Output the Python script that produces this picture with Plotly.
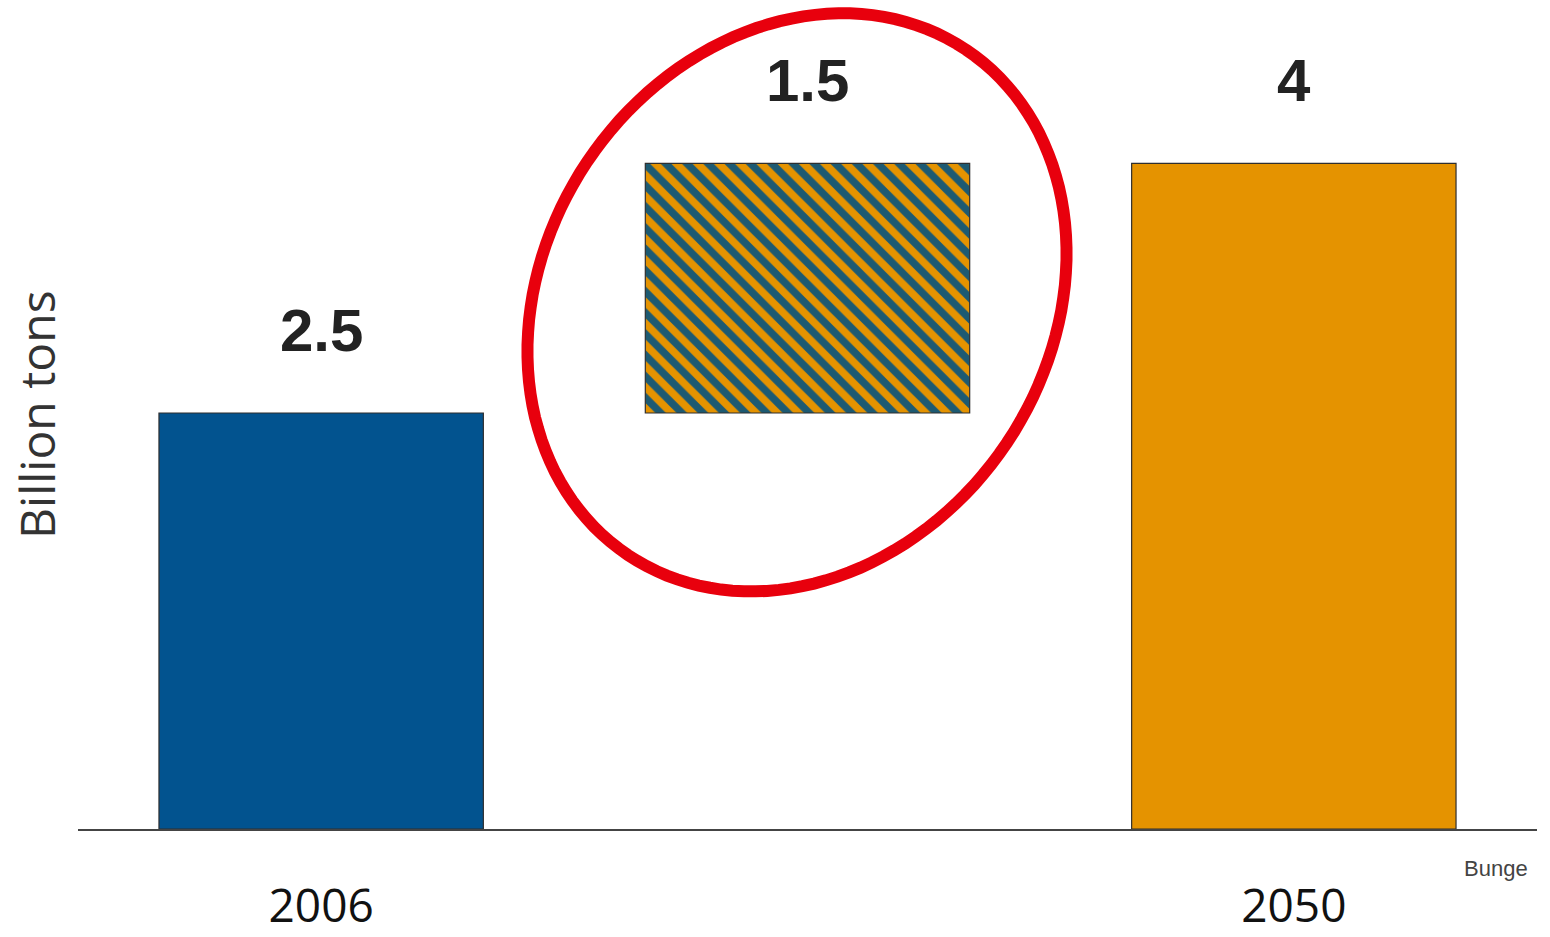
import numpy as np
import plotly.graph_objects as go

# ---- data ----
x_pos = [0, 1, 2]
tick_labels = ["2006", "", "2050"]
values = [2.5, 1.5, 4]
bases = [0, 2.5, 0]
value_labels = ["2.5", "1.5", "4"]
source = "Bunge"
y_title = "Billion tons"

BLUE = "#02538f"
ORANGE = "#e59300"
TEAL = "#1d5a72"

solid_idx = [0, 2]
fig = go.Figure()
fig.add_trace(go.Bar(
    x=[x_pos[i] for i in solid_idx], y=[values[i] for i in solid_idx],
    base=[bases[i] for i in solid_idx],
    marker=dict(color=[BLUE, ORANGE], line=dict(color="#2f2f2f", width=1.2)),
    width=0.667, hoverinfo="skip",
))
fig.add_trace(go.Bar(
    x=[x_pos[1]], y=[values[1]], base=[bases[1]],
    marker=dict(
        color=ORANGE,
        line=dict(color="#2f2f2f", width=1.2),
        pattern=dict(shape="\\", fgcolor=TEAL, fgopacity=1, size=15, solidity=0.5,
                     fillmode="overlay"),
    ),
    width=0.667, hoverinfo="skip",
))

# value labels above bars
for xp, v, b, lab in zip(x_pos, values, bases, value_labels):
    fig.add_annotation(x=xp, y=v + b, text=f"<b>{lab}</b>", showarrow=False,
                       yshift=83, yanchor="middle",
                       font=dict(family="Liberation Sans Narrow, Liberation Sans, Arial",
                                 size=60, color="#222222"))

# red ellipse highlight around the middle bar (pixel path)
a, b, th = 304, 252.6, np.deg2rad(56.2)
t = np.linspace(0, 2 * np.pi, 145)
u, v = a * np.cos(t), b * np.sin(t)
px = u * np.cos(th) - v * np.sin(th) - 10.5
py = u * np.sin(th) + v * np.cos(th)
path = "M " + " L ".join(f"{xx:.1f},{yy:.1f}" for xx, yy in zip(px, py)) + " Z"
fig.add_shape(type="path", xref="x", yref="y", xsizemode="pixel", ysizemode="pixel",
              xanchor=1, yanchor=3.165, path=path,
              line=dict(color="#e8000d", width=12), fillcolor="rgba(0,0,0,0)", layer="above")

# axis title
fig.add_annotation(xref="paper", yref="paper", x=-0.0281, y=0.4994, text=y_title,
                   textangle=-90, showarrow=False, xanchor="center", yanchor="middle",
                   font=dict(family="Open Sans", size=48, color="#333333"))
# source
fig.add_annotation(xref="paper", yref="paper", x=0.972, y=-0.048, text=source,
                   showarrow=False, xanchor="center", yanchor="middle",
                   font=dict(family="Liberation Sans, Arial", size=22, color="#444444"))

fig.update_layout(
    width=1550, height=937,
    margin=dict(l=78, r=13, t=0, b=108),
    paper_bgcolor="white", plot_bgcolor="white",
    showlegend=False,
    barmode="overlay",
    xaxis=dict(range=[-0.5, 2.5], tickvals=x_pos, ticktext=tick_labels,
               showline=True, linecolor="#444444", linewidth=1.5,
               showgrid=False, zeroline=False, ticks="",
               automargin=False,
               ticklabelstandoff=36,
               tickfont=dict(family="Open Sans", size=46, color="#111111")),
    yaxis=dict(range=[0, 4.982], visible=False, showgrid=False, zeroline=False,
               automargin=False),
)

fig.write_html("out.html")
